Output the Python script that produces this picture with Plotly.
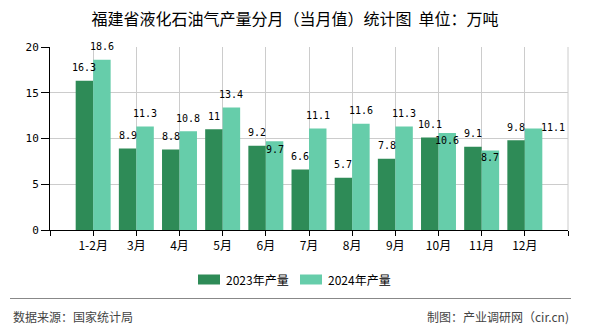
import plotly.graph_objects as go

categories = ["1-2月", "3月", "4月", "5月", "6月", "7月", "8月", "9月", "10月", "11月", "12月"]
prod_2023 = [16.3, 8.9, 8.8, 11, 9.2, 6.6, 5.7, 7.8, 10.1, 9.1, 9.8]
prod_2024 = [18.6, 11.3, 10.8, 13.4, 9.7, 11.1, 11.6, 11.3, 10.6, 8.7, 11.1]
series_names = ["2023年产量", "2024年产量"]
y_ticks = [0, 5, 10, 15, 20]

# label placement tweaks (pixels) mimicking the original overlap avoidance
shift_y_2024 = [13, 13, 13, 13, -8.5, 13, 13, 13, -7.5, -7, 0.5]
shift_x_2024 = [0, 0, 0, 0, 0, 0, 0, 0, 0, 0, 19]

C_DARK = "#2E8B57"
C_LIGHT = "#66CDAA"
W, H = 590, 330
L, R, T, B = 50, 568, 47, 230
BARGAP = 0.19
half = (1 - BARGAP) / 4  # centre offset of each bar in a group

def px_x(x):
    return (x - L) / (R - L)

def px_y(y):
    return (B - y) / (B - T)

xs = list(range(len(categories)))
LABEL_FONT = dict(family="SimSun, 'DejaVu Sans Mono', monospace", size=10, color="#000")
CJK = "SimSun, 'Noto Sans CJK SC', sans-serif"

fig = go.Figure()
fig.add_trace(go.Bar(x=xs, y=prod_2023, name=series_names[0], marker=dict(color=C_DARK, line=dict(width=0))))
fig.add_trace(go.Bar(x=xs, y=prod_2024, name=series_names[1], marker=dict(color=C_LIGHT, line=dict(width=0))))

ann = []
for i, v in enumerate(prod_2023):
    ann.append(dict(x=xs[i] - half, y=v, xref="x", yref="y", text=f"{v:g}", showarrow=False,
                    yanchor="middle", xanchor="center", yshift=13, font=LABEL_FONT))
for i, v in enumerate(prod_2024):
    ann.append(dict(x=xs[i] + half, y=v, xref="x", yref="y", text=f"{v:g}", showarrow=False,
                    yanchor="middle", xanchor="center", yshift=shift_y_2024[i], xshift=shift_x_2024[i],
                    font=LABEL_FONT))

# custom legend
leg_y = 279.5
for (x0, x1, tx, name, col) in [(198, 220, 224, series_names[0], C_DARK), (300, 322, 326, series_names[1], C_LIGHT)]:
    fig.add_shape(type="rect", xref="paper", yref="paper", x0=px_x(x0), x1=px_x(x1),
                  y0=px_y(leg_y + 5), y1=px_y(leg_y - 5), fillcolor=col, line=dict(width=0))
    ann.append(dict(x=px_x(tx), y=px_y(leg_y), xref="paper", yref="paper", text=name, showarrow=False,
                    xanchor="left", yanchor="middle", font=dict(family="'Noto Sans CJK SC', sans-serif", size=12, color="#000")))

# footer separator and texts
fig.add_shape(type="line", xref="paper", yref="paper", x0=px_x(10), x1=px_x(571),
              y0=px_y(298.5), y1=px_y(298.5), line=dict(color="#888888", width=1))
ann.append(dict(x=px_x(11), y=px_y(316), xref="paper", yref="paper", text="数据来源：国家统计局", showarrow=False,
                xanchor="left", yanchor="middle", font=dict(family=CJK, size=12, color="#444")))
ann.append(dict(x=px_x(571), y=px_y(316), xref="paper", yref="paper", text="制图：产业调研网（cir.cn)", showarrow=False,
                xanchor="right", yanchor="middle", font=dict(family=CJK, size=12, color="#444")))

# right boundary grid line
fig.add_shape(type="line", xref="paper", yref="paper", x0=1, x1=1, y0=0, y1=1,
              line=dict(color="#cccccc", width=1))

fig.update_layout(
    width=W, height=H,
    margin=dict(l=L, r=W - R, t=T, b=H - B, pad=0),
    paper_bgcolor="white", plot_bgcolor="white",
    barmode="group", bargap=BARGAP, bargroupgap=0,
    showlegend=False,
    title=dict(text="福建省液化石油气产量分月（当月值）统计图  单位：万吨", x=0.5, xref="container", xanchor="center",
               y=1 - 19 / H, yref="container", yanchor="middle",
               font=dict(family=CJK, size=16, color="#000")),
    annotations=ann,
    xaxis=dict(range=[-1, len(categories)], tickmode="array",
               tickvals=list(range(-1, len(categories) + 1)),
               ticktext=[""] + categories + [""],
               showgrid=True, gridcolor="#cccccc", gridwidth=1, zeroline=False,
               showline=True, linecolor="#000", linewidth=1,
               ticks="outside", ticklen=5, tickcolor="#000",
               tickfont=dict(family=CJK, size=12, color="#000")),
    yaxis=dict(range=[0, 20], tickmode="array", tickvals=y_ticks,
               showgrid=True, gridcolor="#cccccc", gridwidth=1, zeroline=False,
               showline=True, linecolor="#000", linewidth=1,
               ticks="outside", ticklen=8, tickcolor="#000",
               tickfont=dict(family="SimSun, 'DejaVu Sans Mono', monospace", size=11, color="#000")),
)

fig.write_html("out.html")
